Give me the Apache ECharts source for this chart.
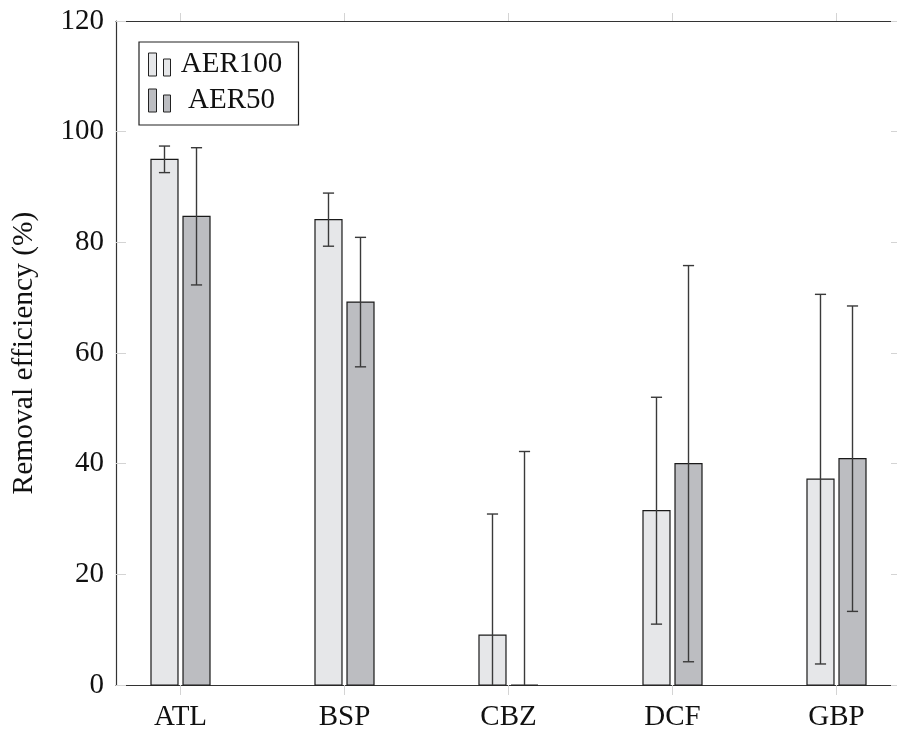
<!DOCTYPE html>
<html>
<head>
<meta charset="utf-8">
<script src="https://cdn.jsdelivr.net/npm/echarts@6/dist/echarts.min.js"></script>
<style>html,body{margin:0;padding:0;background:#fff;}#c{width:897px;height:731px;}</style>
</head>
<body>
<div id="c"></div>
<script>
const categories = ['ATL', 'BSP', 'CBZ', 'DCF', 'GBP'];
const aer100 = [95.0, 84.1, 9.0, 31.5, 37.2];
const aer100Err = [2.4, 4.8, 21.9, 20.5, 33.4];
const aer50 = [84.7, 69.2, 0, 40.0, 40.9];
const aer50Err = [12.4, 11.7, 42.2, 35.8, 27.6];
const yTicks = [0, 20, 40, 60, 80, 100, 120];

const FONT = 'Liberation Serif';
const idx = categories.map((c, i) => i);

function makeRender(offsetFrac, fill) {
  return function (params, api) {
    const x = api.value(0), v = api.value(1), e = api.value(2);
    const unit = api.size([1, 0])[0];
    const base = api.coord([x, 0]);
    const cx = base[0] + offsetFrac * unit;
    const y0 = base[1];
    const y1 = api.coord([x, v])[1];
    const w = 0.1646 * unit;
    const hiV = v + e;
    let loV = v - e;
    let loCap = true;
    if (loV < 0) { loV = 0; loCap = false; }
    const yHi = api.coord([x, hiV])[1];
    const yLo = api.coord([x, loV])[1];
    const cap = 0.034 * unit;
    const eStyle = { stroke: '#3a3a3a', lineWidth: 1.4 };
    const children = [
      { type: 'rect', shape: { x: cx - w / 2, y: y1, width: w, height: y0 - y1 },
        style: { fill: fill, stroke: '#1a1a1a', lineWidth: 1.2 } },
      { type: 'line', shape: { x1: cx, y1: yHi, x2: cx, y2: yLo }, style: eStyle },
      { type: 'line', shape: { x1: cx - cap, y1: yHi, x2: cx + cap, y2: yHi }, style: eStyle }
    ];
    if (loCap) children.push({ type: 'line', shape: { x1: cx - cap, y1: yLo, x2: cx + cap, y2: yLo }, style: eStyle });
    return { type: 'group', children: children };
  };
}

const C100 = '#e6e7e9', C50 = '#bcbdc1';
const chart = echarts.init(document.getElementById('c'), null, { renderer: 'canvas' });
const xCommon = {
  type: 'value', min: -0.3933, max: 4.3933,
  splitLine: { show: false },
  axisLine: { show: true, onZero: false, lineStyle: { color: '#333', width: 1.2 } }
};
chart.setOption({
  animation: false,
  backgroundColor: '#fff',
  grid: { left: 116, top: 21, width: 785, height: 664, outerBoundsMode: 'none', containLabel: false },
  legend: {
    left: 139, top: 42, orient: 'vertical',
    borderColor: '#222', borderWidth: 1.2, borderRadius: 0,
    padding: [8, 11, 10, 9],
    itemWidth: 22, itemHeight: 23, itemGap: 7,
    icon: 'path://M0,0h8v23h-8zM15,6h7v17h-7z',
    formatter: '{c|{name}}',
    textStyle: {
      fontFamily: FONT, fontSize: 29, color: '#111',
      rich: { c: { fontFamily: FONT, fontSize: 29, color: '#111', width: 112, align: 'center', lineHeight: 25 } }
    },
    data: [
      { name: 'AER100', itemStyle: { color: C100, borderColor: '#222', borderWidth: 1 } },
      { name: 'AER50', itemStyle: { color: C50, borderColor: '#222', borderWidth: 1 } }
    ]
  },
  xAxis: [
    Object.assign({}, xCommon, {
      position: 'bottom',
      axisTick: { show: true, inside: false, length: 10, customValues: idx, lineStyle: { color: '#d4d4d4', width: 1 } },
      axisLabel: {
        customValues: idx, margin: 18,
        formatter: v => categories[Math.round(v)],
        fontFamily: FONT, fontSize: 29, color: '#111'
      }
    }),
    Object.assign({}, xCommon, {
      position: 'top',
      axisTick: { show: true, inside: false, length: 8, customValues: idx, lineStyle: { color: '#d4d4d4', width: 1 } },
      axisLabel: { show: false }
    })
  ],
  yAxis: [
    {
      type: 'value', min: 0, max: 120, interval: 20, position: 'left',
      splitLine: { show: false },
      axisLine: { show: true, onZero: false, lineStyle: { color: '#333', width: 1.2 } },
      axisTick: { show: true, inside: true, length: 10, lineStyle: { color: '#d4d4d4', width: 1 } },
      axisLabel: { margin: 12, fontFamily: FONT, fontSize: 29, color: '#111',
        formatter: v => (yTicks.indexOf(v) >= 0 ? String(v) : '') },
      name: 'Removal efficiency (%)', nameLocation: 'middle', nameGap: 77,
      nameTextStyle: { fontFamily: FONT, fontSize: 29.5, color: '#111' }
    },
    {
      type: 'value', min: 0, max: 120, interval: 20, position: 'right',
      splitLine: { show: false },
      axisLine: { show: true, onZero: false, lineStyle: { color: '#333', width: 1.2 } },
      axisTick: { show: true, inside: true, length: 10, lineStyle: { color: '#d4d4d4', width: 1 } },
      axisLabel: { show: false }
    }
  ],
  series: [
    {
      name: 'AER100', type: 'custom', xAxisIndex: 0, yAxisIndex: 0,
      itemStyle: { color: C100 },
      renderItem: makeRender(-0.0976, C100),
      encode: { x: 0, y: 1 },
      data: idx.map(i => [i, aer100[i], aer100Err[i]])
    },
    {
      name: 'AER50', type: 'custom', xAxisIndex: 0, yAxisIndex: 0,
      itemStyle: { color: C50 },
      renderItem: makeRender(0.0976, C50),
      encode: { x: 0, y: 1 },
      data: idx.map(i => [i, aer50[i], aer50Err[i]])
    }
  ]
});
</script>
</body>
</html>
